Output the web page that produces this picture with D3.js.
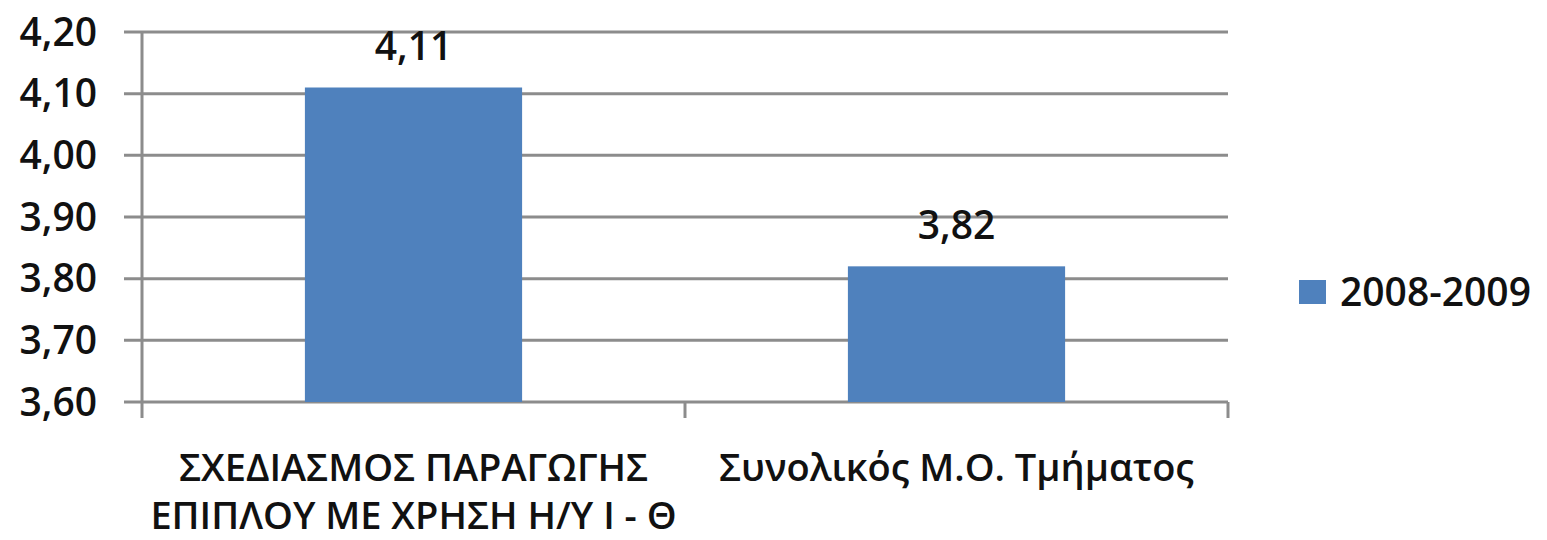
<!DOCTYPE html>
<html>
<head>
<meta charset="utf-8">
<script src="https://cdn.jsdelivr.net/npm/d3@7"></script>
<style>
  html, body { margin: 0; padding: 0; background: #fff; }
  text { font-family: "Open Sans", sans-serif; fill: #111; font-weight: 600; }
</style>
</head>
<body>
<div id="chart"></div>
<script>
'use strict';

// data
const categories = [
  ["ΣΧΕΔΙΑΣΜΟΣ ΠΑΡΑΓΩΓΗΣ", "ΕΠΙΠΛΟΥ ΜΕ ΧΡΗΣΗ Η/Υ Ι - Θ"],
  ["Συνολικός Μ.Ο. Τμήματος"]
];
const values = [4.11, 3.82];
const seriesName = "2008-2009";
const yTicks = [3.6, 3.7, 3.8, 3.9, 4.0, 4.1, 4.2];

function fmt(v) {
  return d3.format(".2f")(v).replace(".", ",");
}

function makeBarChart() {
  var width = 1547;
  var height = 540;
  var margin = {top: 32, right: 319, bottom: 138, left: 142};
  var innerW = width - margin.left - margin.right;
  var innerH = height - margin.top - margin.bottom;
  var barColour = "#4f81bd";
  var gridColour = "#8c8c8c";

  var svg = d3.select('#chart')
              .append('svg')
              .attr('width', width)
              .attr('height', height);

  var g = svg.append('g')
             .attr('transform', 'translate(' + margin.left + ',' + margin.top + ')');

  var x = d3.scaleBand()
            .domain(d3.range(values.length))
            .range([0, innerW])
            .paddingInner(0.6)
            .paddingOuter(0.3);

  var y = d3.scaleLinear()
            .domain([3.6, 4.2])
            .range([innerH, 0]);

  // horizontal gridlines plus the little ticks left of the axis
  g.selectAll('.grid')
   .data(yTicks)
   .enter()
   .append('line')
   .attr('x1', -18)
   .attr('x2', innerW)
   .attr('y1', function(d) { return y(d); })
   .attr('y2', function(d) { return y(d); })
   .attr('stroke', gridColour)
   .attr('stroke-width', 3);

  g.selectAll('.ylab')
   .data(yTicks)
   .enter()
   .append('text')
   .attr('x', -45)
   .attr('y', function(d) { return y(d); })
   .attr('dy', '0.35em')
   .attr('text-anchor', 'end')
   .style('font-size', '39px')
   .text(fmt);

  // vertical axis
  g.append('line')
   .attr('x1', 0).attr('x2', 0)
   .attr('y1', 0).attr('y2', innerH + 16)
   .attr('stroke', gridColour)
   .attr('stroke-width', 3);

  // category boundary ticks on the bottom axis
  var bounds = d3.range(values.length + 1).map(function(i) { return i * innerW / values.length; });
  g.selectAll('.xtick')
   .data(bounds.slice(1))
   .enter()
   .append('line')
   .attr('x1', function(d) { return d; })
   .attr('x2', function(d) { return d; })
   .attr('y1', innerH)
   .attr('y2', innerH + 16)
   .attr('stroke', gridColour)
   .attr('stroke-width', 3);

  g.selectAll('.bar')
   .data(values)
   .enter()
   .append('rect')
   .attr('x', function(d, i) { return x(i); })
   .attr('width', x.bandwidth())
   .attr('y', function(d) { return y(d); })
   .attr('height', function(d) { return innerH - y(d); })
   .attr('fill', barColour);

  g.selectAll('.vlab')
   .data(values)
   .enter()
   .append('text')
   .attr('x', function(d, i) { return x(i) + x.bandwidth() / 2; })
   .attr('y', function(d) { return y(d) - 41; })
   .attr('dy', '0.35em')
   .attr('text-anchor', 'middle')
   .style('font-size', '39px')
   .text(fmt);

  // category labels, one tspan per line
  var cat = g.selectAll('.cat')
             .data(categories)
             .enter()
             .append('text')
             .attr('text-anchor', 'middle')
             .style('font-size', '38px')
             .attr('transform', function(d, i) {
               return 'translate(' + (x(i) + x.bandwidth() / 2) + ',' + (innerH + 66) + ')';
             });

  cat.selectAll('tspan')
     .data(function(d) { return d; })
     .enter()
     .append('tspan')
     .attr('x', 0)
     .attr('y', function(d, i) { return i * 48; })
     .attr('dy', '0.35em')
     .text(function(d) { return d; });

  // legend
  var legend = svg.append('g')
                  .attr('transform', 'translate(1299,280)');
  legend.append('rect')
        .attr('width', 27)
        .attr('height', 24)
        .attr('fill', barColour);
  legend.append('text')
        .attr('x', 41)
        .attr('y', 12)
        .attr('dy', '0.35em')
        .style('font-size', '39px')
        .text(seriesName);
}

makeBarChart();
</script>
</body>
</html>
